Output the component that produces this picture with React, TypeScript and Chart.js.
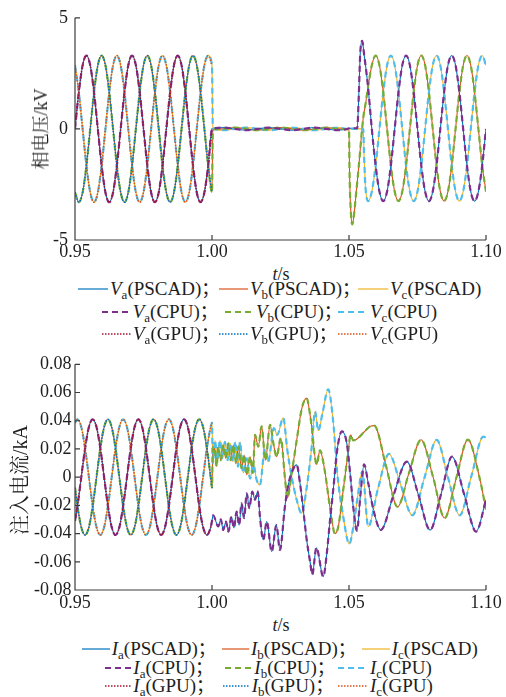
import React, { useEffect, useRef } from 'react';
import { Chart, registerables } from 'chart.js';

Chart.register(...registerables);

// ---------------- axis ticks ----------------
const xTickValues = [0.95, 1.0, 1.05, 1.1];
const xTickLabels = ['0.95', '1.00', '1.05', '1.10'];
const vTickValues = [-5, 0, 5];
const vTickLabels = ['-5', '0', '5'];
const iTickValues = [-0.08, -0.06, -0.04, -0.02, 0, 0.02, 0.04, 0.06, 0.08];
const iTickLabels = ['-0.08', '-0.06', '-0.04', '-0.02', '0', '0.02', '0.04', '0.06', '0.08'];

const sources = ['PSCAD', 'CPU', 'GPU'];
const phases = ['a', 'b', 'c'];

// ---------------- phase voltage (kV) ----------------
const vPreT = [0.95, 0.95139, 0.95278, 0.95417, 0.95556, 0.95694, 0.95833, 0.95972, 0.96111, 0.9625, 0.96389, 0.96528,
  0.96667, 0.96806, 0.96944, 0.97083, 0.97222, 0.97361, 0.975, 0.97639, 0.97778, 0.97917, 0.98056, 0.98194,
  0.98333, 0.98472, 0.98611, 0.9875, 0.98889, 0.99028, 0.99167, 0.99306, 0.99444, 0.99583, 0.99722, 0.99861, 1.0];
const vaPre = [0, 1.65, 2.86, 3.3, 2.86, 1.65, 0, -1.65, -2.86, -3.3, -2.86, -1.65,
  0, 1.65, 2.86, 3.3, 2.86, 1.65, 0, -1.65, -2.86, -3.3, -2.86, -1.65,
  0, 1.65, 2.86, 3.3, 2.86, 1.65, 0, -1.65, -2.86, -3.3, -2.86, -1.65, 0];
const vbPre = [-2.86, -3.3, -2.86, -1.65, 0, 1.65, 2.86, 3.3, 2.86, 1.65, 0, -1.65,
  -2.86, -3.3, -2.86, -1.65, 0, 1.65, 2.86, 3.3, 2.86, 1.65, 0, -1.65,
  -2.86, -3.3, -2.86, -1.65, 0, 1.65, 2.86, 3.3, 2.86, 1.65, 0, -1.65, -2.86];
const vcPre = [2.86, 1.65, 0, -1.65, -2.86, -3.3, -2.86, -1.65, 0, 1.65, 2.86, 3.3,
  2.86, 1.65, 0, -1.65, -2.86, -3.3, -2.86, -1.65, 0, 1.65, 2.86, 3.3,
  2.86, 1.65, 0, -1.65, -2.86, -3.3, -2.86, -1.65, 0, 1.65, 2.86, 3.3, 2.86];

const vFaultT = [1.0003, 1.00417, 1.00833, 1.0125, 1.01667, 1.02083, 1.025, 1.02917, 1.03333, 1.0375, 1.04167, 1.04583, 1.0498];
const vaFault = [0.02, 0.06, 0, -0.06, 0, 0.06, 0, -0.06, 0, 0.06, 0, -0.06, 0.02];
const vbFault = [-0.04, 0, 0.06, 0, -0.06, 0, 0.06, 0, -0.06, 0, 0.06, 0, -0.02];
const vcFault = [0.04, -0.06, 0, 0.06, 0, -0.06, 0, 0.06, 0, -0.06, 0, 0.06, 0];

const vaEdgeT = [1.05, 1.053, 1.0536, 1.0541, 1.0548, 1.05556, 1.05694];
const vaEdge = [0.03, 0.03, 1.6, 3.4, 3.96, 3.3, 1.9];
const vbEdgeT = [1.05, 1.0502, 1.0507, 1.0512, 1.0518, 1.0526, 1.0534, 1.0552, 1.0561, 1.0566];
const vbEdge = [0, -2.0, -3.8, -4.3, -3.9, -2.9, -1.9, 0.5, 1.17, 1.6];
const vcEdgeT = [1.05, 1.0552, 1.0555, 1.056, 1.057];
const vcEdge = [0, 0, -1.2, -2.6, -3.25];

const vPostT = [1.05833, 1.05972, 1.06111, 1.0625, 1.06389, 1.06528, 1.06667, 1.06806, 1.06944, 1.07083, 1.07222,
  1.07361, 1.075, 1.07639, 1.07778, 1.07917, 1.08056, 1.08194, 1.08333, 1.08472, 1.08611, 1.0875, 1.08889,
  1.09028, 1.09167, 1.09306, 1.09444, 1.09583, 1.09722, 1.09861, 1.1];
const vaPost = [0, -1.65, -2.82, -3.25, -2.82, -1.65, 0, 1.65, 2.86, 3.3, 2.86, 1.65, 0, -1.65, -2.82, -3.25,
  -2.82, -1.65, 0, 1.65, 2.86, 3.3, 2.86, 1.65, 0, -1.65, -2.82, -3.25, -2.82, -1.65, 0];
const vbPost = [2.86, 3.3, 2.86, 1.65, 0, -1.65, -2.82, -3.25, -2.82, -1.65, 0, 1.65, 2.86, 3.3, 2.86, 1.65,
  0, -1.65, -2.82, -3.25, -2.82, -1.65, 0, 1.65, 2.86, 3.3, 2.86, 1.65, 0, -1.65, -2.82];
const vcPost = [-2.82, -1.65, 0, 1.65, 2.86, 3.3, 2.86, 1.65, 0, -1.65, -2.82, -3.25, -2.82, -1.65, 0, 1.65,
  2.86, 3.3, 2.86, 1.65, 0, -1.65, -2.82, -3.25, -2.82, -1.65, 0, 1.65, 2.86, 3.3, 2.86];

// ---------------- injected current (kA) ----------------
const iPreT = [0.95, 0.9509, 0.95229, 0.95368, 0.95507, 0.95646, 0.95785, 0.95924, 0.96063, 0.96202, 0.9634,
  0.96479, 0.96618, 0.96757, 0.96896, 0.97035, 0.97174, 0.97313, 0.97452, 0.9759, 0.97729, 0.97868, 0.98007,
  0.98146, 0.98285, 0.98424, 0.98563, 0.98702, 0.9884, 0.98979, 0.99118, 0.99257, 0.99396, 0.99535, 0.99674,
  0.99813, 0.99952, 1.0];
const iaPre = [-0.031,
  -0.0205, 0, 0.0205, 0.0355, 0.041, 0.0355, 0.0205, 0, -0.0205, -0.0355, -0.041, -0.0355,
  -0.0205, 0, 0.0205, 0.0355, 0.041, 0.0355, 0.0205, 0, -0.0205, -0.0355, -0.041, -0.0355,
  -0.0205, 0, 0.0205, 0.0355, 0.041, 0.0355, 0.0205, 0, -0.0205, -0.0355, -0.041, -0.0355, -0.031];
const ibPre = [-0.0075,
  -0.0205, -0.0355, -0.041, -0.0355, -0.0205, 0, 0.0205, 0.0355, 0.041, 0.0355, 0.0205, 0,
  -0.0205, -0.0355, -0.041, -0.0355, -0.0205, 0, 0.0205, 0.0355, 0.041, 0.0355, 0.0205, 0,
  -0.0205, -0.0355, -0.041, -0.0355, -0.0205, 0, 0.0205, 0.0355, 0.041, 0.0355, 0.0205, 0, -0.0075];
const icPre = [0.0386,
  0.041, 0.0355, 0.0205, 0, -0.0205, -0.0355, -0.041, -0.0355, -0.0205, 0, 0.0205, 0.0355,
  0.041, 0.0355, 0.0205, 0, -0.0205, -0.0355, -0.041, -0.0355, -0.0205, 0, 0.0205, 0.0355,
  0.041, 0.0355, 0.0205, 0, -0.0205, -0.0355, -0.041, -0.0355, -0.0205, 0, 0.0205, 0.0355, 0.0386];

const iaPostT = [1.0004, 1.0023, 1.0032, 1.0041, 1.0051, 1.006, 1.0071, 1.008, 1.009, 1.0099, 1.0108, 1.0117,
  1.0127, 1.0136, 1.0147, 1.0157, 1.0167, 1.0175, 1.0187, 1.02, 1.0218, 1.0235, 1.0248, 1.0266, 1.0279,
  1.0297, 1.0309, 1.0321, 1.0333, 1.0346, 1.0358, 1.0366, 1.0381, 1.0406, 1.0419, 1.0431, 1.0443, 1.0456,
  1.0474, 1.0492, 1.0504, 1.0516, 1.0529, 1.0542, 1.0555, 1.057, 1.0589, 1.0616, 1.0662, 1.0711, 1.0754,
  1.0796, 1.0836, 1.0876, 1.092, 1.0964, 1.1];
const iaPost = [-0.027, -0.035, -0.03, -0.0375, -0.0315, -0.0386, -0.028, -0.036, -0.0245, -0.034, -0.0185,
  -0.029, -0.0114, -0.022, -0.0103, -0.016, -0.01, -0.028, -0.0445, -0.0315, -0.0528, -0.034, -0.0516,
  -0.021, -0.005, 0.006, 0.0087, -0.004, -0.023, -0.045, -0.06, -0.069, -0.05, -0.0705, -0.054, -0.03,
  -0.008, 0.018, 0.0325, 0.024, 0.003, -0.022, -0.038, -0.012, 0.009, -0.004, -0.023, -0.0374, -0.013,
  0.011, -0.013, -0.0375, -0.012, 0.0145, -0.012, -0.0386, -0.016];

const ibPostT = [1.0003, 1.0011, 1.0017, 1.0023, 1.0032, 1.0041, 1.005, 1.006, 1.0068, 1.0078, 1.0088, 1.0096,
  1.0108, 1.0117, 1.0127, 1.0139, 1.0149, 1.0157, 1.0169, 1.0181, 1.0195, 1.0212, 1.0224, 1.0236, 1.0251,
  1.0266, 1.0275, 1.0291, 1.0309, 1.0327, 1.0345, 1.0361, 1.0382, 1.0394, 1.0412, 1.0431, 1.0449, 1.0461,
  1.0479, 1.0497, 1.0506, 1.0515, 1.0529, 1.0555, 1.0577, 1.0592, 1.0635, 1.0677, 1.0719, 1.0763, 1.0807,
  1.0849, 1.0891, 1.0934, 1.0976, 1.1];
const ibPost = [0.0216, 0.018, 0.0075, 0.0216, 0.012, 0.0228, 0.0134, 0.024, 0.012, 0.0228, 0.0099, 0.0216,
  0.0063, 0.0157, 0.0016, 0.0145, 0.003, 0.03, 0.0216, 0.036, 0.012, 0.037, 0.024, 0.0145, 0.0276, 0,
  -0.015, 0.003, 0.026, 0.048, 0.056, 0.04, 0.009, 0.019, 0.004, -0.022, -0.04, -0.035, -0.009, 0.018,
  0.03, 0.026, 0.027, 0.032, 0.036, 0.0365, 0.008, -0.021, 0.003, 0.0265, 0, -0.029, -0.001, 0.0266, 0,
  -0.023];

const icPostT = [1.0003, 1.0011, 1.0019, 1.0029, 1.0039, 1.0047, 1.0057, 1.0066, 1.0076, 1.0085, 1.0095,
  1.0102, 1.0114, 1.0127, 1.0139, 1.0151, 1.0163, 1.0175, 1.0193, 1.0205, 1.0226, 1.0238, 1.026, 1.0275,
  1.0291, 1.0309, 1.0327, 1.0346, 1.0364, 1.0376, 1.0388, 1.0403, 1.0424, 1.0443, 1.0457, 1.0479, 1.0501,
  1.0516, 1.053, 1.0549, 1.057, 1.0606, 1.0646, 1.0688, 1.0731, 1.0776, 1.082, 1.0861, 1.0904, 1.0947,
  1.099, 1.1];
const icPost = [0.01, 0.026, 0.012, 0.026, 0.0134, 0.025, 0.012, 0.024, 0.011, 0.025, 0.0074, 0.025, 0.003,
  0.0134, -0.001, 0.0087, -0.002, -0.0055, 0.02, 0.011, 0.0347, 0.03, 0.042, 0.019, 0, -0.016, -0.0256,
  -0.0067, 0.0216, 0.0465, 0.033, 0.045, 0.0623, 0.038, 0.003, -0.028, -0.0474, -0.035, -0.016, 0.004,
  -0.035, -0.008, 0.0165, -0.005, -0.027, 0, 0.0264, 0, -0.027, 0.001, 0.0287, 0.028];

// ---------------- styles ----------------
const COL_PSCAD = ['#0072BD', '#D95319', '#EDB120'];
const COL_CPU = ['#7E2F8E', '#77AC30', '#4DBEEE'];
const COL_GPU = ['#A2142F', '#0072BD', '#D95319'];
const AXIS_COLOR = '#3c3c3c';
const TEXT_COLOR = '#1e1e1e';
const SERIF = "'Liberation Serif', 'Times New Roman', serif";
const SERIF_CJK = "'Liberation Serif', 'Noto Serif CJK SC', 'Noto Sans CJK SC', serif";
const CJK = "'Noto Sans CJK SC', sans-serif";

type Pt = { x: number; y: number };
const pts = (ts: number[], vs: number[]): Pt[] => ts.map((t, i) => ({ x: t, y: vs[i] }));

const axesPlugin = {
  id: 'matlabAxes',
  afterDraw(chart: any) {
    const { ctx, chartArea: a, scales } = chart;
    const xs = scales.x;
    const ys = scales.y;
    ctx.save();
    ctx.strokeStyle = AXIS_COLOR;
    ctx.lineWidth = 1.2;
    ctx.beginPath();
    ctx.moveTo(a.left, a.top);
    ctx.lineTo(a.left, a.bottom);
    ctx.lineTo(a.right, a.bottom);
    xs.ticks.forEach((t: any) => {
      const p = xs.getPixelForValue(t.value);
      ctx.moveTo(p, a.bottom);
      ctx.lineTo(p, a.bottom - 5);
    });
    ys.ticks.forEach((t: any) => {
      const p = ys.getPixelForValue(t.value);
      ctx.moveTo(a.left, p);
      ctx.lineTo(a.left + 5, p);
    });
    ctx.stroke();
    ctx.restore();
  },
};

function makeConfig(full: Pt[][], gpu: Pt[][], yMin: number, yMax: number, yVals: number[], yLabels: string[],
  lay: { top: number; xH: number; yPad: number; xPad: number }): any {
  const common = { pointRadius: 0, fill: false, cubicInterpolationMode: 'monotone', tension: 0 };
  const datasets: any[] = [];
  for (let i = 0; i < 3; i++) {
    datasets.push({ ...common, label: 'GPU' + phases[i], data: gpu[i], borderColor: COL_GPU[i], borderWidth: 1.6, borderDash: [1.5, 1.5], order: 0 });
  }
  for (let i = 0; i < 3; i++) {
    datasets.push({ ...common, label: 'CPU' + phases[i], data: full[i], borderColor: COL_CPU[i], borderWidth: 2.2, borderDash: [6, 4], order: 1 });
  }
  for (let i = 0; i < 3; i++) {
    datasets.push({ ...common, label: 'PSCAD' + phases[i], data: full[i], borderColor: COL_PSCAD[i], borderWidth: 1.1, order: 2 });
  }
  return {
    type: 'line',
    data: { datasets },
    options: {
      responsive: false,
      animation: false,
      devicePixelRatio: 1,
      events: [],
      layout: { padding: { top: lay.top, right: 20, left: 0, bottom: 0 } },
      plugins: { legend: { display: false }, tooltip: { enabled: false }, title: { display: false } },
      scales: {
        x: {
          type: 'linear',
          min: 0.95,
          max: 1.1,
          afterBuildTicks: (s: any) => { s.ticks = xTickValues.map((v) => ({ value: v })); },
          afterFit: (s: any) => { s.height = lay.xH; },
          grid: { display: false, drawTicks: false },
          border: { display: false },
          ticks: {
            autoSkip: false, maxRotation: 0, padding: lay.xPad, color: TEXT_COLOR,
            font: { family: SERIF, size: 18 },
            callback: (_v: any, i: number) => xTickLabels[i],
          },
        },
        y: {
          type: 'linear',
          min: yMin,
          max: yMax,
          afterBuildTicks: (s: any) => { s.ticks = yVals.map((v) => ({ value: v })); },
          afterFit: (s: any) => { s.width = 75; },
          grid: { display: false, drawTicks: false },
          border: { display: false },
          ticks: {
            autoSkip: false, padding: lay.yPad, color: TEXT_COLOR,
            font: { family: SERIF, size: 18 },
            callback: (_v: any, i: number) => yLabels[i],
          },
        },
      },
    },
    plugins: [axesPlugin],
  };
}

// ---------------- legend layout ----------------
const vLegendRows = [289, 311.5, 334];
const vLegendItems = [
  [[78, 110], [219, 250], [357.7, 390]],
  [[101.7, 132.7], [225, 256], [338, 370]],
  [[101.7, 133], [219.3, 250], [338.3, 370]],
];
const iLegendRows = [649, 667.5, 686];
const iLegendItems = [
  [[81.7, 111.7], [221.7, 251], [361.7, 391.7]],
  [[105, 133.3], [225, 254.3], [338.3, 370]],
  [[105, 133.3], [223.3, 251.7], [338.3, 370]],
];

function LineSample({ x, y, w, color, kind }: any) {
  const dash = kind === 1 ? '6 4' : kind === 2 ? '1.5 1.5' : undefined;
  const sw = kind === 1 ? 2 : kind === 2 ? 1.6 : 1.2;
  return (
    <svg style={{ position: 'absolute', left: x, top: y - 3, overflow: 'visible' }} width={w} height={6}>
      <line x1={0} y1={3} x2={w} y2={3} stroke={color} strokeWidth={sw} strokeDasharray={dash} />
    </svg>
  );
}

function Legend({ sym, rows, items }: { sym: string; rows: number[]; items: number[][][] }) {
  const out: any[] = [];
  rows.forEach((y, r) => {
    const cols = r === 0 ? COL_PSCAD : r === 1 ? COL_CPU : COL_GPU;
    items[r].forEach(([lx, tx], c) => {
      out.push(<LineSample key={`l${r}${c}`} x={lx} y={y} w={tx - lx - 2} color={cols[c]} kind={r} />);
      out.push(
        <div key={`t${r}${c}`} style={{
          position: 'absolute', left: tx, top: y, transform: 'translateY(-50%)', fontSize: 19,
          lineHeight: '19px', whiteSpace: 'nowrap', fontFamily: SERIF, color: TEXT_COLOR,
        }}>
          <i>{sym}</i>
          <span style={{ fontSize: 13, position: 'relative', top: 4 }}>{phases[c]}</span>
          <span>({sources[r]})</span>
          {c < 2 ? <span style={{ fontFamily: CJK, fontSize: 18 }}>；</span> : null}
        </div>,
      );
    });
  });
  return <>{out}</>;
}

export default function App() {
  const vRef = useRef<HTMLCanvasElement>(null);
  const iRef = useRef<HTMLCanvasElement>(null);

  useEffect(() => {
    const vFull = [
      [...pts(vPreT, vaPre), ...pts(vFaultT, vaFault), ...pts(vaEdgeT, vaEdge), ...pts(vPostT, vaPost)],
      [...pts(vPreT, vbPre), ...pts(vFaultT, vbFault), ...pts(vbEdgeT, vbEdge), ...pts(vPostT, vbPost)],
      [...pts(vPreT, vcPre), ...pts(vFaultT, vcFault), ...pts(vcEdgeT, vcEdge), ...pts(vPostT, vcPost)],
    ];
    const vGpu = [pts(vPreT, vaPre), pts(vPreT, vbPre), pts(vPreT, vcPre)];
    const iFull = [
      [...pts(iPreT, iaPre), ...pts(iaPostT, iaPost)],
      [...pts(iPreT, ibPre), ...pts(ibPostT, ibPost)],
      [...pts(iPreT, icPre), ...pts(icPostT, icPost)],
    ];
    const iGpu = [pts(iPreT, iaPre), pts(iPreT, ibPre), pts(iPreT, icPre)];

    const c1 = new Chart(vRef.current as HTMLCanvasElement,
      makeConfig(vFull, vGpu, -5, 5, vTickValues, vTickLabels, { top: 16, xH: 22, yPad: 7, xPad: 1 }));
    const c2 = new Chart(iRef.current as HTMLCanvasElement,
      makeConfig(iFull, iGpu, -0.08, 0.08, iTickValues, iTickLabels, { top: 24.3, xH: 25, yPad: 3.5, xPad: 2 }));
    return () => { c1.destroy(); c2.destroy(); };
  }, []);

  const rotTitle = (cx: number, cy: number, size: number): any => ({
    position: 'absolute', left: cx, top: cy, transform: 'translate(-50%, -50%) rotate(-90deg)',
    fontSize: size, lineHeight: 1, whiteSpace: 'nowrap', fontFamily: SERIF_CJK, color: TEXT_COLOR,
  });
  const xTitle = (cy: number): any => ({
    position: 'absolute', left: 281, top: cy, transform: 'translate(-50%, -50%)', fontSize: 18,
    lineHeight: 1, whiteSpace: 'nowrap', fontFamily: SERIF, color: TEXT_COLOR,
  });

  return (
    <div style={{ position: 'absolute', left: 0, top: 0, width: 506, height: 697, overflow: 'hidden', background: '#fff' }}>
      <canvas ref={vRef} width={506} height={262} style={{ position: 'absolute', left: 0, top: 0 }} />
      <canvas ref={iRef} width={506} height={275} style={{ position: 'absolute', left: 0, top: 340 }} />
      <div style={rotTitle(41, 129, 18)}>相电压/kV</div>
      <div style={rotTitle(20, 480, 20)}>注入电流/kA</div>
      <div style={xTitle(273.5)}><i>t</i>/s</div>
      <div style={xTitle(624.5)}><i>t</i>/s</div>
      <Legend sym="V" rows={vLegendRows} items={vLegendItems} />
      <Legend sym="I" rows={iLegendRows} items={iLegendItems} />
    </div>
  );
}
